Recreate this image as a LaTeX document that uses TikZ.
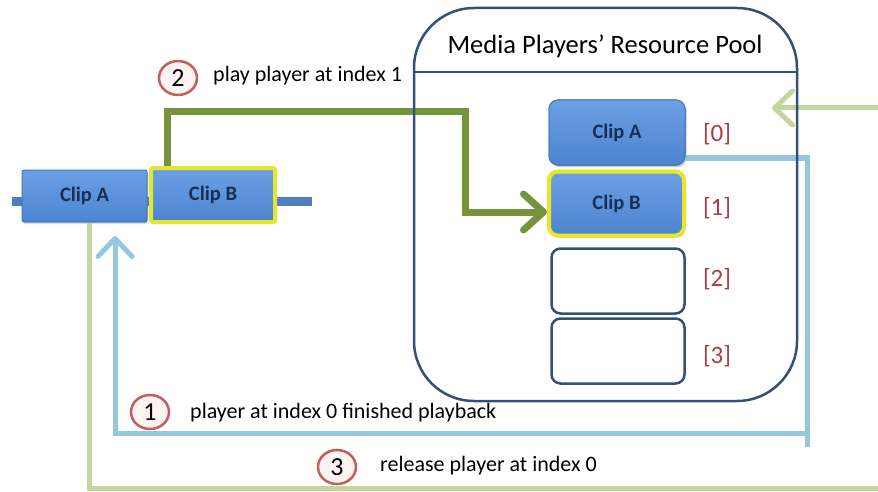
\documentclass[tikz,border=0pt]{standalone}
\usepackage{fontspec}
\setmainfont{Carlito}
\usetikzlibrary{arrows.meta,shapes.geometric,shadows}
\definecolor{clipblue}{HTML}{5790DA}
\definecolor{cliptop}{HTML}{6CA0E4}
\definecolor{clipbot}{HTML}{4C84D0}
\definecolor{clipborder}{HTML}{4677B8}
\definecolor{cliptext}{HTML}{182F55}
\definecolor{poolline}{HTML}{34507A}
\definecolor{timeline}{HTML}{4F7FC0}
\definecolor{selyellow}{HTML}{E6E62C}
\definecolor{darkgreen}{HTML}{77933C}
\definecolor{palegreen}{HTML}{C3D69B}
\definecolor{lightblue}{HTML}{93C8DE}
\definecolor{idxred}{HTML}{B03A3C}
\definecolor{circred}{HTML}{C0605E}
\definecolor{circfill}{HTML}{FDF3F3}
\begin{document}
\begin{tikzpicture}[x=1pt,y=-1pt,
  clipbox/.style={rectangle, rounded corners=2pt, draw=clipborder, line width=1pt,
    top color=cliptop, bottom color=clipbot, text=cliptext,
    font=\fontsize{20.5}{24}\selectfont\bfseries, inner sep=0pt,
    drop shadow={opacity=0.25, shadow xshift=1.5pt, shadow yshift=-2pt}},
  selbox/.style={clipbox, draw=selyellow, line width=4pt},
  poolclip/.style={clipbox, rounded corners=9pt},
  poolsel/.style={selbox, rounded corners=9pt},
  emptybox/.style={rectangle, rounded corners=9pt, draw=poolline, line width=2.5pt,
    fill=white, minimum width=133pt, minimum height=65pt},
  idx/.style={text=idxred, font=\fontsize{25}{30}\selectfont},
  stepnum/.style={ellipse, draw=circred, line width=2.5pt, fill=circfill,
    minimum width=38pt, minimum height=34pt, inner sep=0pt,
    font=\fontsize{26}{30}\selectfont},
  caption/.style={anchor=west, font=\fontsize{22}{26}\selectfont, inner sep=0pt},
  greenarrow/.style={draw=darkgreen, line width=7pt,
    -{Straight Barb[length=20pt,width=36pt,round]}},
  bluearrow/.style={draw=lightblue, line width=5pt,
    -{Straight Barb[length=18pt,width=34pt,round]}},
  palearrow/.style={draw=palegreen, line width=5pt,
    -{Straight Barb[length=18pt,width=34pt,round]}}
]
\useasboundingbox (0,0) rectangle (878,492);

% timeline
\draw[timeline, line width=9pt] (12,201) -- (312,201);

% clips on the timeline
\node[clipbox, minimum width=125pt, minimum height=52pt] (lA) at (84.5,196) {Clip A};
\node[selbox, minimum width=124pt, minimum height=54pt] (lB) at (213,195) {Clip B};

% named free ends
\coordinate (bluetip) at (115,236);
\coordinate (greentip) at (772,108);

% pool inner clips (needed for connector anchors)
\node[poolclip, minimum width=136pt, minimum height=65pt] (pA) at (617,132.5) {Clip A};
\node[poolsel, minimum width=135pt, minimum height=64pt] (pB) at (616.5,203.5) {Clip B};
\node[emptybox] (p2) at (618,281) {};
\node[emptybox] (p3) at (618,351) {};

% connectors
\draw[greenarrow] ([xshift=-46pt]lB.north) -- (167,112) -- (465,112) -- (465,212)
  -- (pB.west |- 0,212);
\draw[bluearrow] (pA.east |- 0,158) -- (807,158) -- (807,433) -- (115,433) -- (bluetip);
\draw[lightblue, line width=5pt] (807,430) -- (807,447);
\draw[palearrow] (lA.south -| 89,0) -- (89,488) -- (900,488) -- (900,108) -- (greentip);

% resource pool
\node[rectangle, draw=poolline, line width=2.5pt, rounded corners=60pt,
  minimum width=383pt, minimum height=393pt] (pool) at (605.5,204.5) {};
\coordinate (hdr) at (0,72);
\draw[poolline, line width=2pt] (pool.west |- hdr) -- (pool.east |- hdr);
\node[font=\fontsize{26.5}{30}\selectfont] (title) at (605,46) {Media Players’ Resource Pool};

% redraw inner boxes on top
\node[poolclip, minimum width=136pt, minimum height=65pt] at (pA) {Clip A};
\node[poolsel, minimum width=135pt, minimum height=64pt] at (pB) {Clip B};

% indices
\node[idx] (i0) at (717,134) {[0]};
\node[idx] (i1) at (717,208) {[1]};
\node[idx] (i2) at (717,279) {[2]};
\node[idx] (i3) at (717,356) {[3]};

% step markers and captions
\node[stepnum] (s2) at (178,78) {2};
\node[caption] (c2) at (213,76) {play player at index 1};
\node[stepnum] (s1) at (150,412) {1};
\node[caption] (c1) at (190,413) {player at index 0 finished playback};
\node[stepnum] (s3) at (337,467) {3};
\node[caption] (c3) at (380,466) {release player at index 0};
\end{tikzpicture}
\end{document}
